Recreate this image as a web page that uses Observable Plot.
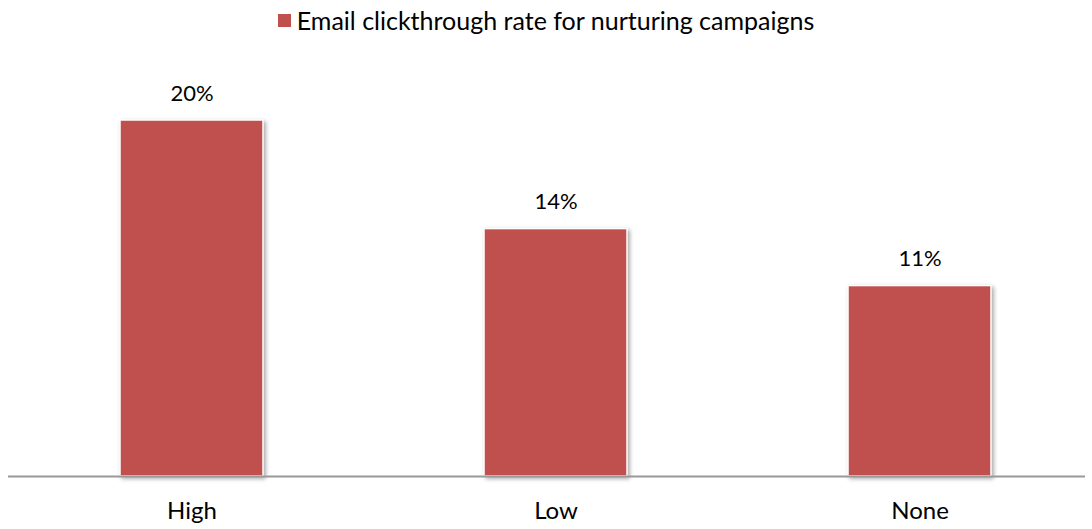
<!DOCTYPE html>
<html>
<head>
<meta charset="utf-8">
<script src="https://cdn.jsdelivr.net/npm/d3@7"></script>
<script src="https://cdn.jsdelivr.net/npm/@observablehq/plot@0.6"></script>
<style>
  html, body { margin: 0; padding: 0; background: #fff; }
  body { width: 1092px; height: 529px; overflow: hidden; font-family: Lato, "Open Sans", sans-serif; }
  #legend { height: 40px; display: flex; align-items: center; justify-content: center; font-size: 25px; color: #000; }
  #legend .sw { display: inline-block; width: 13px; height: 13px; background: #C0504D; margin-right: 6px; }
  #chart svg g[aria-label="bar"] rect { filter: drop-shadow(2px 2px 2px rgba(0,0,0,0.35)); }
</style>
</head>
<body>
<div id="legend"></div>
<div id="chart"></div>
<script>
const seriesName = "Email clickthrough rate for nurturing campaigns";
const categories = ["High", "Low", "None"];
const values = [0.200, 0.139, 0.107];
const barColor = "#C0504D";

const data = categories.map((c, i) => ({category: c, value: values[i]}));

const legend = document.getElementById("legend");
legend.innerHTML = `<span class="sw"></span><span>${seriesName}</span>`;

const chart = Plot.plot({
  width: 1092,
  height: 489,
  marginTop: 80,
  marginBottom: 53,
  marginLeft: 8,
  marginRight: 7,
  style: {fontFamily: "Lato, 'Open Sans', sans-serif", background: "#fff"},
  x: {domain: categories, range: [-63.25, 1173.25], paddingInner: 0.6077, paddingOuter: 0.5, label: null},
  y: {domain: [0, 0.2], axis: null},
  marks: [
    Plot.barY(data, {x: "category", y: "value", fill: barColor, stroke: "#fff", strokeWidth: 1.5}),
    Plot.ruleY([0], {stroke: "#999", strokeWidth: 2}),
    Plot.text(data, {x: "category", y: "value", text: d => d3.format(".0%")(d.value), dy: -27, fontSize: 22, fill: "#000"}),
    Plot.axisX({tickSize: 0, tickPadding: 25, fontSize: 24, color: "#000", label: null})
  ]
});
document.getElementById("chart").appendChild(chart);
</script>
</body>
</html>
